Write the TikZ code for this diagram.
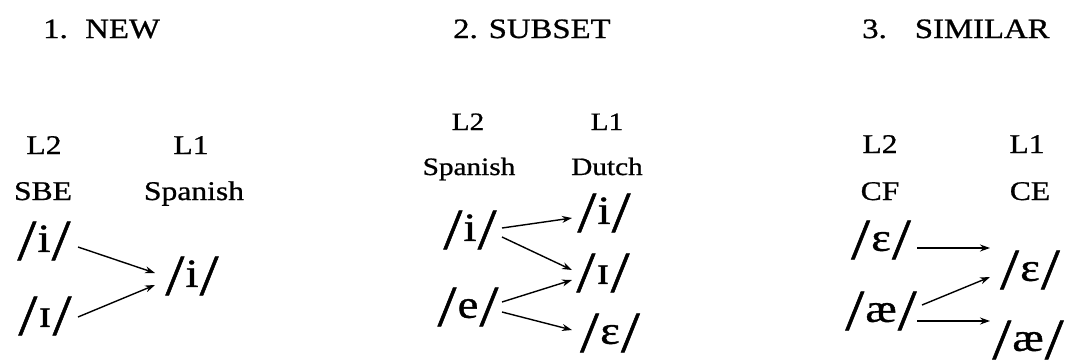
\documentclass[tikz,border=0pt]{standalone}
\usepackage{fontspec}
\setmainfont{Liberation Serif}[FakeBold=0.8]
\usetikzlibrary{arrows.meta,calc}

% phonemic transcription: tall slashes around a vowel symbol
\newcommand\ipaform[1]{\scalebox{1.17}[1]{%
  \raisebox{-8pt}{\fontsize{58}{58}\selectfont/}\kern1pt
  {\fontsize{40}{40}\selectfont #1}\kern1pt
  \raisebox{-8pt}{\fontsize{58}{58}\selectfont/}}}
% slightly widened setting of ordinary labels
\newcommand\wide[1]{\scalebox{1.17}[1]{#1}}

\tikzset{
  title/.style={anchor=base west, inner sep=0pt, font=\fontsize{28}{28}\selectfont},
  lab/.style={anchor=base, inner sep=0pt, font=\fontsize{27}{27}\selectfont},
  labsmall/.style={anchor=base, inner sep=0pt, font=\fontsize{25}{25}\selectfont},
  ipa/.style={inner sep=0pt},
  arr/.style={-{Stealth[length=10pt,width=7pt]}, line width=1.4pt},
}

\begin{document}
\begin{tikzpicture}[x=1pt,y=-1pt]
\useasboundingbox (0,0) rectangle (1070,360);

% ---- 1. NEW ----
\node[title] (t1) at (43,38) {\wide{1.\hspace{15pt}NEW}};
\node[lab] (l2a) at (44,154) {\wide{L2}};
\node[lab] (l1a) at (191,154) {\wide{L1}};
\node[lab] (sbe) at (43,200) {\wide{SBE}};
\node[lab] (spa) at (194,200) {\wide{Spanish}};
\node[ipa] (a1) at (44,241) {\ipaform{i}};
\node[ipa] (a2) at (45,316) {\ipaform{ɪ}};
\node[ipa] (b1) at (192,276) {\ipaform{i}};
\draw[arr] ($(a1)+(34,6)$) -- ($(b1)+(-37,-3)$);
\draw[arr] ($(a2)+(33,1)$) -- ($(b1)+(-37,9)$);

% ---- 2. SUBSET ----
\node[title] (t2) at (453,38) {\wide{2. SUBSET}};
\node[labsmall] (l2b) at (468,130) {\wide{L2}};
\node[labsmall] (l1b) at (607,130) {\wide{L1}};
\node[labsmall] (spb) at (469,175) {\wide{Spanish}};
\node[labsmall] (dut) at (607,175) {\wide{Dutch}};
\node[ipa] (c1) at (470,230) {\ipaform{i}};
\node[ipa] (c2) at (468,307) {\ipaform{e}};
\node[ipa] (d1) at (604,213) {\ipaform{i}};
\node[ipa] (d2) at (603,273) {\ipaform{ɪ}};
\node[ipa] (d3) at (610,333) {\ipaform{ɛ}};
\draw[arr] ($(c1)+(32,-2)$) -- ($(d1)+(-32,5)$);
\draw[arr] ($(c1)+(32,7)$) -- ($(d2)+(-31,-3)$);
\draw[arr] ($(c2)+(34,-5)$) -- ($(d2)+(-31,7)$);
\draw[arr] ($(c2)+(34,5)$) -- ($(d3)+(-38,-3)$);

% ---- 3. SIMILAR ----
\node[title] (t3) at (862,38) {\wide{3.\hspace{24pt}SIMILAR}};
\node[lab] (l2c) at (880,153) {\wide{L2}};
\node[lab] (l1c) at (1027,153) {\wide{L1}};
\node[lab] (cf) at (880,200) {\wide{CF}};
\node[lab] (ce) at (1030,200) {\wide{CE}};
\node[ipa] (e1) at (881,240) {\ipaform{ɛ}};
\node[ipa] (e2) at (881,311) {\ipaform{æ}};
\node[ipa] (f1) at (1030,270) {\ipaform{ɛ}};
\node[ipa] (f2) at (1028,340) {\ipaform{æ}};
\draw[arr] ($(e1)+(36,8)$) -- ($(f1)+(-40,-22)$);
\draw[arr] ($(e2)+(41,-6)$) -- ($(f1)+(-40,7)$);
\draw[arr] ($(e2)+(36,10)$) -- ($(f2)+(-38,-19)$);
\end{tikzpicture}
\end{document}
